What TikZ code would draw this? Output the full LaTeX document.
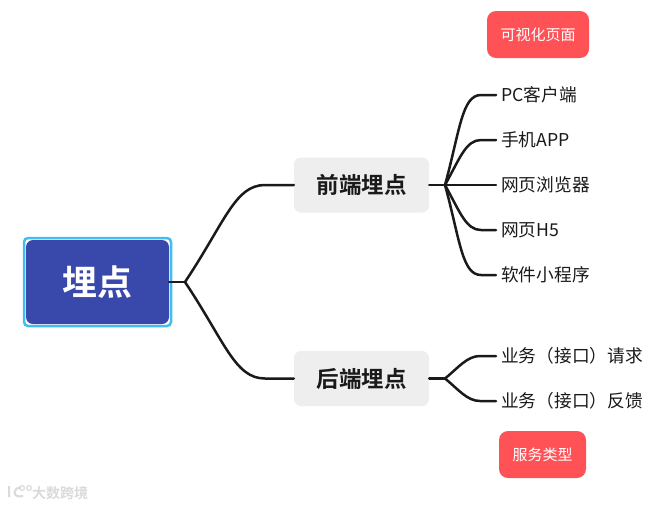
\documentclass[tikz,border=0pt]{standalone}
\usepackage{fontspec}
\setmainfont{Noto Sans CJK SC}
\newfontfamily\cjkbold{Noto Sans CJK SC Bold}
\definecolor{rootfill}{HTML}{3949AB}
\definecolor{rootring}{HTML}{42BDF2}
\definecolor{branchfill}{HTML}{EEEEEE}
\definecolor{tagfill}{HTML}{FF5257}
\definecolor{ink}{HTML}{1A1A1A}
\definecolor{wm}{HTML}{DADADA}
\tikzset{
  x=1pt,y=-1pt,
  conn/.style={draw=ink,line width=2.5pt,line cap=round,line join=round},
  rootbox/.style={fill=rootfill,draw=none,rounded corners=7pt,minimum width=143pt,minimum height=84pt,inner sep=0pt,text=white,font=\cjkbold\fontsize{35}{35}\selectfont},
  branchbox/.style={fill=branchfill,draw=none,rounded corners=7pt,minimum width=135pt,minimum height=55pt,inner sep=0pt,text=ink,font=\cjkbold\fontsize{22.5}{23}\selectfont},
  leaf/.style={anchor=west,inner sep=0pt,text=ink,font=\fontsize{17.7}{18}\selectfont},
  tagbox/.style={fill=tagfill,draw=none,rounded corners=9pt,inner sep=0pt,minimum height=47pt,text=white,font=\fontsize{15}{15}\selectfont},
}
\begin{document}
\begin{tikzpicture}
\useasboundingbox (0,0) rectangle (664,507);
\fill[white] (0,0) rectangle (664,507);
\node[draw=rootring,line width=2.5pt,rounded corners=4pt,minimum width=147pt,minimum height=88pt,inner sep=0pt] (ring) at (97.5,282) {};
\node[rootbox] (root) at (97.5,282) {埋点};
\node[branchbox] (front) at (361.5,185) {前端埋点};
\node[branchbox] (back) at (361.5,378.5) {后端埋点};
\node[leaf] (l1) at (501,95) {PC客户端};
\node[leaf] (l2) at (501,140) {手机APP};
\node[leaf] (l3) at (501,185) {网页浏览器};
\node[leaf] (l4) at (501,230) {网页H5};
\node[leaf] (l5) at (501,275) {软件小程序};
\node[leaf] (l6) at (501,356) {业务（接口）请求};
\node[leaf] (l7) at (501,401) {业务（接口）反馈};
\node[tagbox,minimum width=102pt] (t1) at (538,34.5) {可视化页面};
\node[tagbox,minimum width=87pt] (t2) at (542.5,454.5) {服务类型};
\coordinate (hubr) at (185,282);
\coordinate (hubf) at (445,185);
\coordinate (hubb) at (445,378.5);
\draw[conn] (root.east) -- (hubr);
\draw[conn] (hubr) .. controls (225,222) and (235,185) .. (265,185) -- (front.west);
\draw[conn] (hubr) .. controls (225,342) and (235,378.5) .. (265,378.5) -- (back.west);
\draw[conn] (front.east) -- (hubf);
\draw[conn] (back.east) -- (hubb);
\draw[conn] (hubf) .. controls (460,130) and (462,95) .. (481,95) -- (l1.west -| 496,95);
\draw[conn] (hubf) .. controls (460,158) and (466,140) .. (481,140) -- (l2.west -| 496,140);
\draw[conn] (hubf) -- (l3.west -| 496,185);
\draw[conn] (hubf) .. controls (460,212) and (466,230) .. (481,230) -- (l4.west -| 496,230);
\draw[conn] (hubf) .. controls (460,240) and (462,275) .. (481,275) -- (l5.west -| 496,275);
\draw[conn] (hubb) .. controls (458,368) and (467,356) .. (480,356) -- (l6.west -| 496,356);
\draw[conn] (hubb) .. controls (458,389) and (467,401) .. (480,401) -- (l7.west -| 496,401);
\node[anchor=west,inner sep=0pt,text=wm,font=\cjkbold\fontsize{14}{14}\selectfont] (wmark) at (32,493) {大数跨境};
\draw[wm,line width=2pt] (9,486) -- (9,497) (21,488) .. controls (13,486) and (11,499) .. (23,496);
\draw[wm,line width=1.2pt] (22,488) circle (2.4) (29,488) circle (2.4);
\end{tikzpicture}
\end{document}
